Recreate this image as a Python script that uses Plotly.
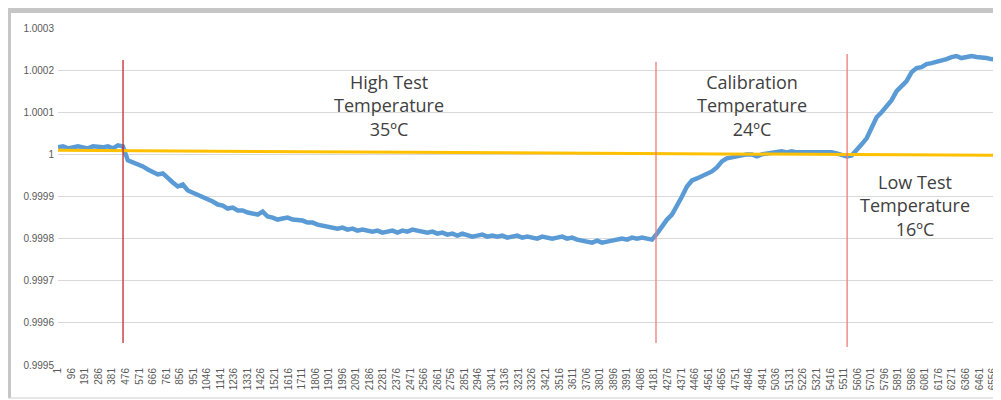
import plotly.graph_objects as go

# ---- data ----
sample_step = 35  # one reading every 35 samples
ratio = [
    1.0000167, 1.0000190, 1.0000143, 1.0000167, 1.0000190, 1.0000167, 1.0000143, 1.0000190,
    1.0000167, 1.0000167, 1.0000190, 1.0000143, 1.0000214, 1.0000190,
    0.9999857, 0.9999810, 0.9999786, 0.9999714, 0.9999643, 0.9999595, 0.9999524, 0.9999548,
    0.9999429, 0.9999333, 0.9999238, 0.9999286, 0.9999143, 0.9999095, 0.9999024, 0.9998976,
    0.9998929, 0.9998881, 0.9998810, 0.9998786, 0.9998714, 0.9998738, 0.9998667, 0.9998667,
    0.9998619, 0.9998595, 0.9998571, 0.9998643, 0.9998524, 0.9998500, 0.9998452, 0.9998476,
    0.9998500, 0.9998452, 0.9998452, 0.9998429, 0.9998381, 0.9998381, 0.9998333, 0.9998310,
    0.9998310, 0.9998286, 0.9998238, 0.9998262, 0.9998214, 0.9998238, 0.9998190, 0.9998214,
    0.9998190, 0.9998167, 0.9998190, 0.9998143, 0.9998167, 0.9998190, 0.9998143, 0.9998190,
    0.9998167, 0.9998214, 0.9998190, 0.9998167, 0.9998143, 0.9998167, 0.9998119, 0.9998143,
    0.9998095, 0.9998119, 0.9998071, 0.9998119, 0.9998095, 0.9998048, 0.9998071, 0.9998095,
    0.9998048, 0.9998071, 0.9998048, 0.9998071, 0.9998024, 0.9998048, 0.9998071, 0.9998024,
    0.9998048, 0.9998024, 0.9998000, 0.9998048, 0.9998024, 0.9998000, 0.9998024, 0.9998048,
    0.9998000, 0.9998024, 0.9997976, 0.9997952, 0.9997929, 0.9997905, 0.9997952, 0.9997905,
    0.9997929, 0.9997952, 0.9997976, 0.9998000, 0.9997976, 0.9998024, 0.9998000, 0.9998024,
    0.9998000, 0.9997976,
    0.9998119, 0.9998286, 0.9998452, 0.9998571, 0.9998762, 0.9999000, 0.9999238, 0.9999381,
    0.9999429, 0.9999476, 0.9999548, 0.9999595, 0.9999690, 0.9999833, 0.9999905, 0.9999929,
    0.9999976, 0.9999976, 1.0000000, 1.0000000, 0.9999952, 1.0000000, 1.0000024, 1.0000048,
    1.0000071, 1.0000071, 1.0000048, 1.0000071, 1.0000048, 1.0000048, 1.0000071, 1.0000048,
    1.0000071, 1.0000048, 1.0000071, 1.0000048, 1.0000024, 0.9999976, 0.9999952, 0.9999976,
    1.0000095, 1.0000238, 1.0000381, 1.0000643, 1.0000881, 1.0001000, 1.0001143, 1.0001286,
    1.0001500, 1.0001619, 1.0001738, 1.0001952, 1.0002048, 1.0002071, 1.0002143, 1.0002167,
    1.0002190, 1.0002238, 1.0002262, 1.0002310, 1.0002333, 1.0002286, 1.0002310, 1.0002333,
    1.0002310, 1.0002310, 1.0002286, 1.0002262, 1.0002238, 1.0002238,
]
sample_index = [1 + sample_step * i for i in range(len(ratio))]

trend_index = [1, 6613]
trend_ratio = [1.0000095, 0.9999976]

phase_index = [457, 4194, 5534]
phase_top = [1.000224, 1.000219, 1.000238]
phase_bottom = [0.999552, 0.999552, 0.999543]
phase_colors = ["#c0282d", "#f07a7a", "#f07a7a"]

y_ticks = [1.0003, 1.0002, 1.0001, 1.0, 0.9999, 0.9998, 0.9997, 0.9996, 0.9995]
y_tick_labels = ["1.0003", "1.0002", "1.0001", "1", "0.9999", "0.9998", "0.9997", "0.9996", "0.9995"]
x_ticks = [1 + 95 * i for i in range(70)]
x_tick_labels = [str(v) for v in x_ticks]

fig = go.Figure()
fig.add_trace(go.Scatter(x=sample_index, y=ratio, mode="lines",
                         line=dict(color="#5b9bd5", width=4.5), showlegend=False))
fig.add_trace(go.Scatter(x=trend_index, y=trend_ratio, mode="lines",
                         line=dict(color="#ffc000", width=3), showlegend=False))

for xi, yt, yb, c in zip(phase_index, phase_top, phase_bottom, phase_colors):
    fig.add_shape(type="line", xref="x", yref="y", x0=xi, x1=xi, y0=yb, y1=yt,
                  line=dict(color=c, width=1.3))

label_font = dict(family="Open Sans, DejaVu Sans, sans-serif", size=18, color="#404040")
fig.add_annotation(x=2320, y=1.000205, xref="x", yref="y", showarrow=False,
                   text="High Test<br>Temperature<br>35ºC", font=label_font, yanchor="top",
                   align="center")
fig.add_annotation(x=4870, y=1.000205, xref="x", yref="y", showarrow=False,
                   text="Calibration<br>Temperature<br>24ºC", font=label_font, yanchor="top",
                   align="center")
fig.add_annotation(x=6010, y=0.999967, xref="x", yref="y", showarrow=False,
                   text="Low Test<br>Temperature<br>16ºC", font=label_font, yanchor="top",
                   align="center")

# frame pieces of the screenshot (plot area is 943 x 337 px)
fig.add_shape(type="rect", xref="paper", yref="paper", x0=-50/943, x1=-47/943, y0=-33/337, y1=1 + 20/337,
              fillcolor="#c6c6c6", line=dict(width=0), layer="below")
fig.add_shape(type="rect", xref="paper", yref="paper", x0=-50/943, x1=1, y0=1 + 15/337, y1=1 + 20/337,
              fillcolor="#c6c6c6", line=dict(width=0), layer="below")
fig.add_shape(type="rect", xref="paper", yref="paper", x0=-50/943, x1=1, y0=-33.5/337, y1=-32.5/337,
              fillcolor="#d0d0d0", line=dict(width=0), layer="below")

fig.update_layout(
    width=993, height=392,
    margin=dict(l=50, r=0, t=20, b=35),
    paper_bgcolor="white", plot_bgcolor="white",
    xaxis=dict(range=[1, 6613], tickvals=x_ticks, ticktext=x_tick_labels, tickangle=-90,
               showgrid=False, zeroline=False, showline=False, ticks="", automargin=False,
               tickfont=dict(family="Liberation Sans, sans-serif", size=10, color="#595959")),
    yaxis=dict(range=[0.9995, 1.0003], tickvals=y_ticks, ticktext=y_tick_labels,
               showgrid=True, gridcolor="#d9d9d9", gridwidth=1, zeroline=False, showline=False,
               ticks="outside", ticklen=1, tickcolor="rgba(0,0,0,0)", automargin=False,
               tickfont=dict(family="Liberation Sans, sans-serif", size=10, color="#595959")),
)

fig.write_html("out.html")
